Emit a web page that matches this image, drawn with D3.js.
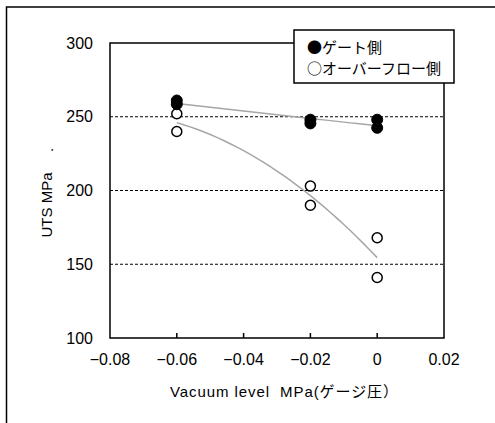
<!DOCTYPE html>
<html>
<head>
<meta charset="utf-8">
<script src="https://cdn.jsdelivr.net/npm/d3@7"></script>
<style>
body{margin:0;background:#fff;}
text{font-family:"Liberation Sans","Noto Sans CJK JP",sans-serif;fill:#000;white-space:pre;}
</style>
</head>
<body>
<div id="chart"></div>
<script>
// values
var xTicks = [-0.08, -0.06, -0.04, -0.02, 0, 0.02];
var yTicks = [100, 150, 200, 250, 300];
var gridLevels = [150, 200, 250];
var gateX = [-0.06, -0.06, -0.02, -0.02, 0, 0];
var gateY = [261, 258.5, 248, 245.5, 248, 242.5];
var overflowX = [-0.06, -0.06, -0.02, -0.02, 0, 0];
var overflowY = [252, 240, 203, 190, 168, 141];
var legendLabels = ["●ゲート側", "○オーバーフロー側"];

var W = 495, H = 423;
var svg = d3.select("#chart").append("svg").attr("width", W).attr("height", H);

var x = d3.scaleLinear().domain([-0.08, 0.02]).range([110, 444]);
var y = d3.scaleLinear().domain([100, 300]).range([338, 43]);

// outer frame (only left/top edges fall in view)
svg.append("path").attr("d", "M6.5,423V7H495")
    .attr("fill", "none").attr("stroke", "#000").attr("stroke-width", 1.5);

// dashed grid
svg.selectAll(".grid").data(gridLevels).enter().append("line")
    .attr("x1", x(-0.08)).attr("x2", x(0.02))
    .attr("y1", function(d){ return y(d); }).attr("y2", function(d){ return y(d); })
    .attr("stroke", "#000").attr("stroke-width", 1).attr("stroke-dasharray", "3,2");

// --------------------------------------------------------------------
// trend lines: linear for gate, quadratic for overflow (least squares)
function linFit(xs, ys){
    var mx = d3.mean(xs), my = d3.mean(ys), sxx = 0, sxy = 0;
    xs.forEach(function(v, i){ sxx += (v-mx)*(v-mx); sxy += (v-mx)*(ys[i]-my); });
    var b = sxy/sxx;
    return function(t){ return my + b*(t-mx); };
}
function quadFit(xs, ys){
    // normal equations for y = a + b x + c x^2
    var s = [0,0,0,0,0], t = [0,0,0];
    xs.forEach(function(v, i){
        for (var k=0;k<5;k++) s[k] += Math.pow(v, k);
        for (var k=0;k<3;k++) t[k] += ys[i]*Math.pow(v, k);
    });
    var M = [[s[0],s[1],s[2],t[0]],[s[1],s[2],s[3],t[1]],[s[2],s[3],s[4],t[2]]];
    for (var i=0;i<3;i++){
        for (var j=i+1;j<3;j++){
            var f = M[j][i]/M[i][i];
            for (var k=i;k<4;k++) M[j][k] -= f*M[i][k];
        }
    }
    var c = [0,0,0];
    for (var i=2;i>=0;i--){
        var v = M[i][3];
        for (var k=i+1;k<3;k++) v -= M[i][k]*c[k];
        c[i] = v/M[i][i];
    }
    return function(u){ return c[0] + c[1]*u + c[2]*u*u; };
}

var gateFit = linFit(gateX, gateY);
var ovFit = quadFit(overflowX, overflowY);
var line = d3.line().x(function(d){ return x(d[0]); }).y(function(d){ return y(d[1]); });

svg.append("path").datum(d3.range(0, 31).map(function(i){ var u = -0.06 + i*0.002; return [u, gateFit(u)]; }))
    .attr("d", line).attr("fill", "none").attr("stroke", "#a6a6a6").attr("stroke-width", 1.5);
svg.append("path").datum(d3.range(0, 31).map(function(i){ var u = -0.06 + i*0.002; return [u, ovFit(u)]; }))
    .attr("d", line).attr("fill", "none").attr("stroke", "#a6a6a6").attr("stroke-width", 1.5);

// plot border
svg.append("rect").attr("x", x(-0.08)).attr("y", y(300))
    .attr("width", x(0.02)-x(-0.08)).attr("height", y(100)-y(300))
    .attr("fill", "none").attr("stroke", "#000").attr("stroke-width", 1.5);

// x ticks point inward
svg.selectAll(".xt").data(xTicks.slice(1, -1)).enter().append("line")
    .attr("x1", function(d){ return x(d); }).attr("x2", function(d){ return x(d); })
    .attr("y1", y(100)).attr("y2", y(100)-5)
    .attr("stroke", "#000").attr("stroke-width", 1.5);

svg.selectAll(".xl").data(xTicks).enter().append("text")
    .attr("x", function(d){ return x(d); }).attr("y", 365)
    .attr("text-anchor", "middle").style("font-size", "16px")
    .text(function(d){ return d === 0 ? "0" : d3.format(".2f")(d).replace("-", "\u2212"); });

svg.selectAll(".yl").data(yTicks).enter().append("text")
    .attr("x", 93).attr("y", function(d){ return y(d) + 5.5; })
    .attr("text-anchor", "end").style("font-size", "16px")
    .text(function(d){ return d; });

// points
svg.selectAll(".ov").data(overflowY).enter().append("circle")
    .attr("cx", function(d, i){ return x(overflowX[i]); }).attr("cy", function(d){ return y(d); })
    .attr("r", 5).attr("fill", "#fff").attr("stroke", "#000").attr("stroke-width", 1.5);
svg.selectAll(".gt").data(gateY).enter().append("circle")
    .attr("cx", function(d, i){ return x(gateX[i]); }).attr("cy", function(d){ return y(d); })
    .attr("r", 5.5).attr("fill", "#000").attr("stroke", "#000").attr("stroke-width", 1);

// axis titles
svg.append("text").attr("transform", "translate(52,205) rotate(-90)")
    .attr("text-anchor", "middle").style("font-size", "15px").text("UTS MPa");
svg.append("text").attr("transform", "translate(53,150) rotate(-90)")
    .attr("text-anchor", "middle").style("font-size", "15px").text(".");
svg.append("text").attr("x", 170).attr("y", 397)
    .attr("textLength", 228).attr("lengthAdjust", "spacing")
    .style("font-size", "15px").text("Vacuum level  MPa(ゲージ圧）");

// legend
var lg = svg.append("g");
lg.append("rect").attr("x", 294).attr("y", 30).attr("width", 160).attr("height", 53)
    .attr("fill", "#fff").attr("stroke", "#000").attr("stroke-width", 1.5);
lg.selectAll("text").data(legendLabels).enter().append("text")
    .attr("x", 307).attr("y", function(d, i){ return 53 + i*21; })
    .style("font-family", "'Noto Sans CJK JP'").style("font-size", "15px")
    .text(function(d){ return d; });
</script>
</body>
</html>
